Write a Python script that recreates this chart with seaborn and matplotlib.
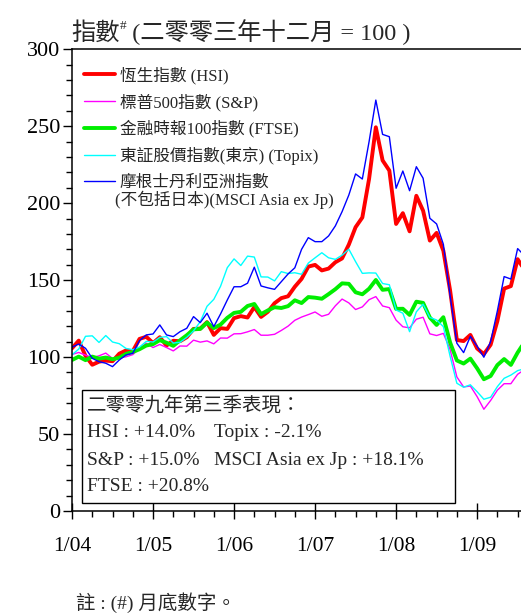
import numpy as np
import pandas as pd
import seaborn as sns
import matplotlib.pyplot as plt
from matplotlib.patches import Rectangle
from matplotlib.ticker import MultipleLocator

# 月底指數 (二零零三年十二月 = 100), 2004年1月 至 2009年9月
hsi = [105.7, 110.7, 100.8, 95.0, 97.0, 97.7, 97.3, 102.2, 104.3, 103.8, 111.8, 113.2,
       109.1, 112.9, 107.5, 110.6, 110.3, 112.9, 118.3, 118.5, 122.7, 114.4, 118.8, 118.3,
       125.3, 126.6, 125.7, 132.5, 126.1, 129.4, 135.0, 138.3, 139.5, 145.7, 150.8, 158.8,
       159.9, 156.3, 157.5, 161.6, 164.1, 173.1, 184.4, 190.7, 215.8, 249.3, 227.8, 221.2,
       186.5, 193.5, 181.7, 204.8, 195.1, 175.7, 180.7, 169.1, 143.3, 111.1, 110.4, 114.4,
       105.6, 101.9, 108.0, 123.4, 144.5, 146.1, 163.6, 156.8, 166.6]

sp500 = [101.7, 103.0, 101.3, 99.6, 100.8, 102.6, 99.1, 99.3, 100.2, 101.6, 105.6, 109.0,
         106.2, 108.2, 106.2, 104.0, 107.2, 107.1, 111.0, 109.7, 110.5, 108.6, 112.4, 112.3,
         115.1, 115.2, 116.4, 117.9, 114.2, 114.2, 114.8, 117.3, 120.1, 123.9, 126.0, 127.6,
         129.3, 126.5, 127.8, 133.3, 137.7, 135.2, 130.9, 132.6, 137.3, 139.3, 133.2, 132.1,
         124.0, 119.7, 119.0, 124.6, 125.9, 115.1, 114.0, 115.4, 104.9, 87.1, 80.6, 81.2,
         74.3, 66.1, 71.8, 78.5, 82.7, 82.7, 88.8, 91.8, 95.1]

ftse = [98.1, 100.3, 98.0, 100.3, 99.0, 99.7, 98.6, 99.6, 102.1, 103.3, 105.1, 107.5,
        108.4, 111.0, 109.3, 107.3, 110.9, 114.2, 118.0, 118.3, 122.4, 118.8, 121.1, 125.5,
        128.7, 129.4, 133.2, 134.5, 127.9, 130.3, 132.4, 131.9, 133.1, 136.9, 135.1, 139.0,
        138.6, 137.9, 140.9, 144.1, 147.9, 147.6, 142.1, 140.8, 144.4, 150.1, 143.7, 144.2,
        131.3, 131.4, 127.4, 136.0, 135.2, 125.7, 120.9, 125.9, 109.5, 97.8, 95.8, 99.0,
        92.7, 85.6, 87.7, 94.8, 98.7, 94.9, 102.9, 109.6, 114.7]

topix = [101.5, 105.2, 113.5, 113.8, 109.5, 114.0, 109.8, 108.7, 105.6, 104.8, 106.5, 110.2,
         109.8, 112.8, 113.3, 109.1, 109.6, 112.8, 117.0, 123.0, 133.0, 137.5, 146.0, 158.1,
         163.8, 159.5, 165.6, 165.0, 152.1, 152.0, 149.5, 155.5, 154.3, 154.8, 153.8, 161.1,
         164.5, 167.8, 164.5, 163.5, 166.2, 170.1, 162.0, 154.4, 154.7, 154.6, 147.8, 147.0,
         130.6, 128.5, 116.5, 129.4, 134.4, 125.8, 124.1, 119.8, 100.5, 83.0, 80.4, 82.0,
         77.5, 72.6, 73.9, 80.8, 86.2, 88.3, 91.2, 92.4, 86.5]

msci = [106.4, 108.5, 105.7, 99.2, 97.0, 96.0, 93.8, 98.1, 101.4, 102.5, 110.7, 114.4,
        115.0, 120.9, 114.4, 113.3, 116.5, 118.7, 126.3, 122.4, 128.5, 119.8, 128.0, 137.1,
        145.7, 145.7, 148.0, 158.4, 146.2, 145.0, 144.0, 149.0, 154.0, 158.0, 170.0, 177.6,
        175.0, 175.0, 178.7, 185.2, 194.5, 205.3, 219.0, 215.7, 240.0, 267.0, 244.7, 243.2,
        209.7, 220.9, 208.1, 223.7, 216.2, 190.2, 186.5, 173.3, 140.0, 109.0, 102.9, 113.5,
        107.0, 99.9, 110.0, 130.0, 152.3, 150.7, 170.5, 166.0, 178.0]

labels = ["恆生指數 (HSI)", "標普500指數 (S&P)", "金融時報100指數 (FTSE)",
          "東証股價指數(東京) (Topix)", "摩根士丹利亞洲指數"]
year_ticks = ["1/04", "1/05", "1/06", "1/07", "1/08", "1/09"]
perf_lines = ["二零零九年第三季表現：", "HSI : +14.0%", "Topix : -2.1%",
              "S&P : +15.0%", "MSCI Asia ex Jp : +18.1%", "FTSE : +20.8%"]

months = np.arange(len(hsi))
series = [hsi, sp500, ftse, topix, msci]
colors = ["#ff0000", "#ff00ff", "#00ee00", "#00ffff", "#0000ff"]
widths = [2.8, 1.0, 2.8, 1.0, 1.0]

sns.set_theme(style='ticks')
plt.rcParams['font.family'] = ['Liberation Serif', 'Noto Sans CJK TC']

fig = plt.figure(figsize=(5.21, 6.16), dpi=100)
ax = fig.add_axes([0.1382, 0.1705, 0.8618, 0.7495])

for vals, lab, c, lw in zip(series, labels, colors, widths):
    sns.lineplot(x=months, y=vals, color=c, linewidth=lw, label=lab, ax=ax)

ax.set_xlim(0, 66.5)
ax.set_ylim(0, 300)
ax.set_xlabel("")
ax.set_ylabel("")

ax.set_xticks(np.arange(0, 61, 12))
ax.set_xticklabels(year_ticks)
ax.xaxis.set_minor_locator(MultipleLocator(3))
ax.set_yticks(np.arange(0, 301, 50))
ax.yaxis.set_minor_locator(MultipleLocator(10))

ax.tick_params(axis='x', which='major', direction='inout', length=11, width=1,
               labelsize=15.5, pad=13, colors='black')
ax.tick_params(axis='x', which='minor', direction='out', length=4, width=1, colors='black')
ax.tick_params(axis='y', which='major', direction='out', length=6.5, width=1,
               labelsize=16, pad=2, colors='black')
ax.tick_params(axis='y', which='minor', direction='out', length=4.5, width=1, colors='black')

for side in ['left', 'bottom', 'top']:
    ax.spines[side].set_visible(True)
    ax.spines[side].set_color('black')
    ax.spines[side].set_linewidth(1.1)
ax.spines['right'].set_visible(False)

leg = ax.legend(loc='upper left', bbox_to_anchor=(0.0, 0.988), frameon=False,
                fontsize=12, handlelength=1.85, handletextpad=0.3,
                labelspacing=0.55, borderaxespad=0.3)
ax.annotate("(不包括日本)(MSCI Asia ex Jp)", xy=(0, 0), xycoords=leg.get_texts()[4],
            xytext=(-3, 0), textcoords='offset points', va='top', ha='left',
            fontsize=12, annotation_clip=False)

# 表現方框
box = Rectangle((0.0216, 0.018), 0.8314, 0.244, transform=ax.transAxes,
                facecolor='white', edgecolor='black', linewidth=1.0, zorder=5)
ax.add_patch(box)
ax.text(0.0327, 0.2296, perf_lines[0], transform=ax.transAxes, fontsize=14, va='center', zorder=6)
ax.text(0.0327, 0.169, perf_lines[1], transform=ax.transAxes, fontsize=14, va='center', zorder=6)
ax.text(0.316, 0.169, perf_lines[2], transform=ax.transAxes, fontsize=14, va='center', zorder=6)
ax.text(0.0327, 0.110, perf_lines[3], transform=ax.transAxes, fontsize=14, va='center', zorder=6)
ax.text(0.316, 0.110, perf_lines[4], transform=ax.transAxes, fontsize=14, va='center', zorder=6)
ax.text(0.0327, 0.052, perf_lines[5], transform=ax.transAxes, fontsize=14, va='center', zorder=6)

# 標題
t1 = fig.text(0.136, 0.935, "指數", fontsize=17.5, va='baseline', ha='left')
t2 = ax.annotate("#", xy=(1, 0.953), xycoords=(t1, 'figure fraction'),
                 fontsize=9.5, va='baseline', ha='left', annotation_clip=False)
ax.annotate(" (二零零三年十二月 = 100 )", xy=(1, 0.935), xycoords=(t2, 'figure fraction'),
            fontsize=17.5, va='baseline', ha='left', annotation_clip=False)

fig.text(0.146, 0.021, "註 : (#) 月底數字。", fontsize=14, va='center', ha='left')

fig.canvas.draw()
plt.savefig("out.png", dpi=100)
